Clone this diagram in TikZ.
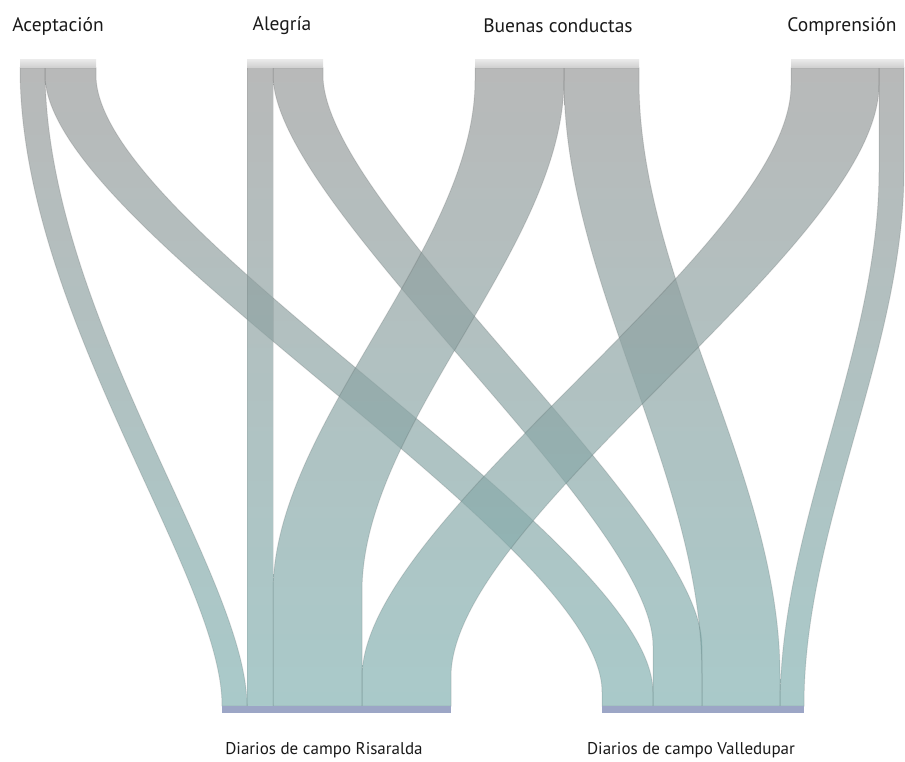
\documentclass[tikz,border=0pt]{standalone}
\usepackage{fontspec}
\setmainfont{PT Sans}
\definecolor{flowtop}{RGB}{150,152,152}
\definecolor{flowbot}{RGB}{128,176,176}
\definecolor{bartop}{RGB}{232,232,232}
\definecolor{barbot}{RGB}{206,206,206}
\definecolor{sinkcol}{RGB}{156,166,198}
\definecolor{txt}{RGB}{25,25,25}
\tikzset{
  flow/.style={top color=flowtop, bottom color=flowbot, fill opacity=0.68,
    draw=black, draw opacity=0.10, line width=1pt},
  srcbar/.style={top color=bartop, bottom color=barbot, draw=none},
  sinkbar/.style={fill=sinkcol, draw=none},
  toplbl/.style={text=txt, font=\fontsize{19.5}{22}\selectfont, inner sep=0pt},
  botlbl/.style={text=txt, font=\fontsize{17}{20}\selectfont, inner sep=0pt},
}
% #1,#2 top edges; #3,#4 bottom edges; #5 end of top vertical; #6 start of bottom vertical;
% #7 top control length; #8 bottom control length
\newcommand\ribbon[8]{%
  \path[flow] (#1,68) -- (#1,#5) .. controls (#1,#5+#7) and (#3,#6-#8) .. (#3,#6) -- (#3,706)
    -- (#4,706) -- (#4,#6) .. controls (#4,#6-#8) and (#2,#5+#7) .. (#2,#5) -- (#2,68) -- cycle;}
\begin{document}
\begin{tikzpicture}[x=1pt,y=-1pt]
\useasboundingbox (0,0) rectangle (905,762);
\ribbon{20}{45}{222}{247}{68}{706}{246}{132}
\ribbon{45}{96}{602}{653}{75}{692}{153}{153}
\ribbon{247}{273}{247}{273}{68}{706}{200}{200}
\ribbon{273}{323}{653}{702}{75}{646}{131}{131}
\ribbon{475}{564}{273}{362}{80}{592}{168}{168}
\ribbon{564}{639}{702}{780}{80}{675}{200}{200}
\ribbon{791}{879}{362}{451}{85}{677}{160}{160}
\ribbon{879}{904}{780}{804}{170}{706}{181}{181}
% source bars
\path[srcbar] (20,60) rectangle (96,68);
\path[srcbar] (247,60) rectangle (323,68);
\path[srcbar] (475,60) rectangle (639,68);
\path[srcbar] (791,60) rectangle (904,68);
% sink bars
\path[sinkbar] (222,706) rectangle (451,713);
\path[sinkbar] (602,706) rectangle (804,713);
% labels
\node[toplbl] (acep) at (58,26) {Aceptación};
\node[toplbl] (aleg) at (282,26) {Alegría};
\node[toplbl] (buen) at (558,26) {Buenas conductas};
\node[toplbl] (comp) at (842,26) {Comprensión};
\node[botlbl] (risa) at (324,750) {Diarios de campo Risaralda};
\node[botlbl] (valle) at (691,750) {Diarios de campo Valledupar};
\end{tikzpicture}
\end{document}
